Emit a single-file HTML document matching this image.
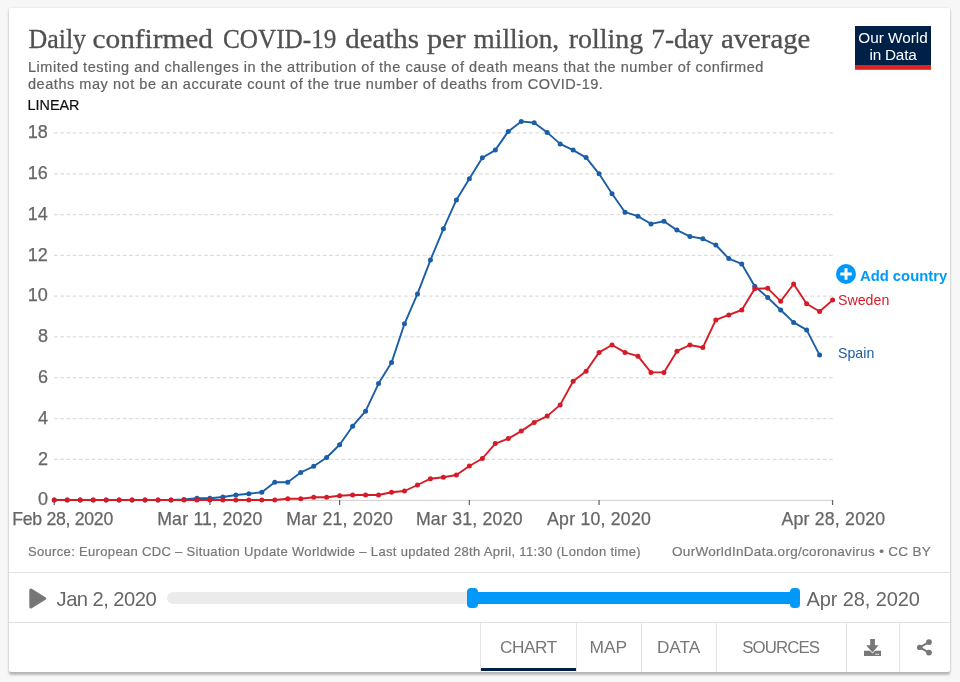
<!DOCTYPE html>
<html lang="en">
<head>
<meta charset="utf-8">
<title>Daily confirmed COVID-19 deaths per million, rolling 7-day average</title>
<style>
html,body{margin:0;padding:0;}
body{width:960px;height:682px;background:#f7f7f7;position:relative;overflow:hidden;font-family:"Liberation Sans", Arial, sans-serif;}
#card{position:absolute;left:9px;top:8px;width:941px;height:664px;background:#fff;border-radius:2px;
 box-shadow:0 0 2.5px 0 rgba(0,0,0,.1),0 2.5px 2.5px 0 rgba(0,0,0,.25);}
#chart{position:absolute;left:0;top:0;width:960px;height:682px;}
#chart text{font-family:"Liberation Sans", Arial, sans-serif;}
#chart #title{font-family:"Liberation Serif", "Times New Roman", serif;font-size:27px;}
.abs{position:absolute;white-space:nowrap;line-height:1;}
#timeline{position:absolute;left:9px;top:572px;width:941px;height:50px;border-top:1px solid #e3e3e3;box-sizing:border-box;}
#tabs{position:absolute;left:9px;top:622px;width:941px;height:50px;border-top:1px solid #e3e3e3;box-sizing:border-box;}
.tab{position:absolute;top:0;height:49px;border-left:1px solid #e3e3e3;box-sizing:border-box;color:#777;font-size:16.5px;text-align:center;line-height:48px;}
.tab.active::after{content:"";position:absolute;left:0;right:0;bottom:0.75px;height:3.25px;background:#002147;}
</style>
</head>
<body>
<div id="card"></div>
<svg id="chart" width="960" height="682" viewBox="0 0 960 682">
 <text id="title" x="28" y="48.3" fill="#505050" stroke="#505050" stroke-width="0.3"><tspan x="28.4" textLength="57.7" lengthAdjust="spacingAndGlyphs">Daily</tspan> <tspan x="92.5" textLength="120.5" lengthAdjust="spacingAndGlyphs">confirmed</tspan> <tspan x="222.9" textLength="113.6" lengthAdjust="spacingAndGlyphs">COVID-19</tspan> <tspan x="345.2" textLength="73.8" lengthAdjust="spacingAndGlyphs">deaths</tspan> <tspan x="426.9" textLength="38.8" lengthAdjust="spacingAndGlyphs">per</tspan> <tspan x="473.6" textLength="85.6" lengthAdjust="spacingAndGlyphs">million,</tspan> <tspan x="568.8" textLength="74.4" lengthAdjust="spacingAndGlyphs">rolling</tspan> <tspan x="651.3" textLength="61.9" lengthAdjust="spacingAndGlyphs">7-day</tspan> <tspan x="721.0" textLength="89.3" lengthAdjust="spacingAndGlyphs">average</tspan></text>
 <g fill="#636363" stroke="#636363" stroke-width="0.2" style="font-size:14.5px;letter-spacing:0.54px">
  <text x="28" y="71.6">Limited testing and challenges in the attribution of the cause of death means that the number of confirmed</text>
  <text x="28" y="88.7">deaths may not be an accurate count of the true number of deaths from COVID-19.</text>
 </g>
 <text x="27.5" y="110.4" fill="#111" stroke="#111" stroke-width="0.2" style="font-size:14.4px">LINEAR</text>
 <g stroke="#ddd" stroke-width="1.25" stroke-dasharray="3.75,2.5" fill="none"><line x1="54" x2="833" y1="459.31" y2="459.31"/><line x1="54" x2="833" y1="418.52" y2="418.52"/><line x1="54" x2="833" y1="377.73" y2="377.73"/><line x1="54" x2="833" y1="336.94" y2="336.94"/><line x1="54" x2="833" y1="296.15" y2="296.15"/><line x1="54" x2="833" y1="255.36" y2="255.36"/><line x1="54" x2="833" y1="214.57" y2="214.57"/><line x1="54" x2="833" y1="173.78" y2="173.78"/><line x1="54" x2="833" y1="132.99" y2="132.99"/></g>
 <line x1="54" x2="833" y1="500.3" y2="500.3" stroke="#ccc" stroke-width="1"/>
 <g stroke="#666" stroke-width="1.25"><line x1="54.25" x2="54.25" y1="500" y2="505"/><line x1="209.91" x2="209.91" y1="500" y2="505"/><line x1="339.63" x2="339.63" y1="500" y2="505"/><line x1="469.35" x2="469.35" y1="500" y2="505"/><line x1="599.07" x2="599.07" y1="500" y2="505"/><line x1="832.57" x2="832.57" y1="500" y2="505"/></g>
 <g fill="#666" stroke="#666" stroke-width="0.25" style="font-size:18px"><text x="47.9" y="505.3" text-anchor="end">0</text><text x="47.9" y="464.51" text-anchor="end">2</text><text x="47.9" y="423.72" text-anchor="end">4</text><text x="47.9" y="382.93" text-anchor="end">6</text><text x="47.9" y="342.14" text-anchor="end">8</text><text x="47.9" y="301.35" text-anchor="end">10</text><text x="47.9" y="260.56" text-anchor="end">12</text><text x="47.9" y="219.77" text-anchor="end">14</text><text x="47.9" y="178.98" text-anchor="end">16</text><text x="47.9" y="138.19" text-anchor="end">18</text></g>
 <g fill="#666" stroke="#666" stroke-width="0.25" style="font-size:17.7px;letter-spacing:0.22px"><text x="12.3" y="525" style="letter-spacing:-0.3px">Feb 28, 2020</text><text x="209.91" y="525" text-anchor="middle">Mar 11, 2020</text><text x="339.63" y="525" text-anchor="middle">Mar 21, 2020</text><text x="469.35" y="525" text-anchor="middle">Mar 31, 2020</text><text x="599.07" y="525" text-anchor="middle">Apr 10, 2020</text><text x="833.37" y="525" text-anchor="middle">Apr 28, 2020</text></g>
 <path d="M54.25,500.0 L67.22,500.0 L80.19,500.0 L93.17,500.0 L106.14,500.0 L119.11,500.0 L132.08,500.0 L145.05,500.0 L158.03,500.0 L171.0,500.0 L183.97,499.5 L196.94,498.3 L209.91,498.3 L222.89,497 L235.86,495 L248.83,493.7 L261.8,492.2 L274.77,482.3 L287.75,482.3 L300.72,472.5 L313.69,466.3 L326.66,457.5 L339.63,444.7 L352.61,426.2 L365.58,411.2 L378.55,383.6 L391.52,362.6 L404.49,323.8 L417.47,293.9 L430.44,260.1 L443.41,228.8 L456.38,199.9 L469.35,178.8 L482.33,157.8 L495.3,150.1 L508.27,131.4 L521.24,121.4 L534.21,122.7 L547.19,132.4 L560.16,143.9 L573.13,150.1 L586.1,157.6 L599.07,173.8 L612.05,193.7 L625.02,212.2 L637.99,216.2 L650.96,223.9 L663.93,221.2 L676.91,230.1 L689.88,236.4 L702.85,238.8 L715.82,245.0 L728.79,258.6 L741.77,263.9 L754.74,286.3 L767.71,297.5 L780.68,310 L793.65,322.4 L806.63,329.9 L819.6,355.1" fill="none" stroke="#1b5ea6" stroke-width="1.9" stroke-linejoin="round"/>
 <g fill="#1b5ea6"><circle cx="54.25" cy="500.0" r="2.5"/><circle cx="67.22" cy="500.0" r="2.5"/><circle cx="80.19" cy="500.0" r="2.5"/><circle cx="93.17" cy="500.0" r="2.5"/><circle cx="106.14" cy="500.0" r="2.5"/><circle cx="119.11" cy="500.0" r="2.5"/><circle cx="132.08" cy="500.0" r="2.5"/><circle cx="145.05" cy="500.0" r="2.5"/><circle cx="158.03" cy="500.0" r="2.5"/><circle cx="171.0" cy="500.0" r="2.5"/><circle cx="183.97" cy="499.5" r="2.5"/><circle cx="196.94" cy="498.3" r="2.5"/><circle cx="209.91" cy="498.3" r="2.5"/><circle cx="222.89" cy="497" r="2.5"/><circle cx="235.86" cy="495" r="2.5"/><circle cx="248.83" cy="493.7" r="2.5"/><circle cx="261.8" cy="492.2" r="2.5"/><circle cx="274.77" cy="482.3" r="2.5"/><circle cx="287.75" cy="482.3" r="2.5"/><circle cx="300.72" cy="472.5" r="2.5"/><circle cx="313.69" cy="466.3" r="2.5"/><circle cx="326.66" cy="457.5" r="2.5"/><circle cx="339.63" cy="444.7" r="2.5"/><circle cx="352.61" cy="426.2" r="2.5"/><circle cx="365.58" cy="411.2" r="2.5"/><circle cx="378.55" cy="383.6" r="2.5"/><circle cx="391.52" cy="362.6" r="2.5"/><circle cx="404.49" cy="323.8" r="2.5"/><circle cx="417.47" cy="293.9" r="2.5"/><circle cx="430.44" cy="260.1" r="2.5"/><circle cx="443.41" cy="228.8" r="2.5"/><circle cx="456.38" cy="199.9" r="2.5"/><circle cx="469.35" cy="178.8" r="2.5"/><circle cx="482.33" cy="157.8" r="2.5"/><circle cx="495.3" cy="150.1" r="2.5"/><circle cx="508.27" cy="131.4" r="2.5"/><circle cx="521.24" cy="121.4" r="2.5"/><circle cx="534.21" cy="122.7" r="2.5"/><circle cx="547.19" cy="132.4" r="2.5"/><circle cx="560.16" cy="143.9" r="2.5"/><circle cx="573.13" cy="150.1" r="2.5"/><circle cx="586.1" cy="157.6" r="2.5"/><circle cx="599.07" cy="173.8" r="2.5"/><circle cx="612.05" cy="193.7" r="2.5"/><circle cx="625.02" cy="212.2" r="2.5"/><circle cx="637.99" cy="216.2" r="2.5"/><circle cx="650.96" cy="223.9" r="2.5"/><circle cx="663.93" cy="221.2" r="2.5"/><circle cx="676.91" cy="230.1" r="2.5"/><circle cx="689.88" cy="236.4" r="2.5"/><circle cx="702.85" cy="238.8" r="2.5"/><circle cx="715.82" cy="245.0" r="2.5"/><circle cx="728.79" cy="258.6" r="2.5"/><circle cx="741.77" cy="263.9" r="2.5"/><circle cx="754.74" cy="286.3" r="2.5"/><circle cx="767.71" cy="297.5" r="2.5"/><circle cx="780.68" cy="310" r="2.5"/><circle cx="793.65" cy="322.4" r="2.5"/><circle cx="806.63" cy="329.9" r="2.5"/><circle cx="819.6" cy="355.1" r="2.5"/></g>
 <path d="M54.25,500.0 L67.22,500.0 L80.19,500.0 L93.17,500.0 L106.14,500.0 L119.11,500.0 L132.08,500.0 L145.05,500.0 L158.03,500.0 L171.0,500.0 L183.97,500.0 L196.94,500.0 L209.91,500.0 L222.89,500.0 L235.86,500.0 L248.83,500.0 L261.8,500.0 L274.77,500.0 L287.75,498.7 L300.72,498.7 L313.69,497.2 L326.66,497.2 L339.63,495.8 L352.61,495 L365.58,495 L378.55,495 L391.52,492.2 L404.49,491 L417.47,485 L430.44,478.7 L443.41,477.3 L456.38,475 L469.35,466.0 L482.33,458.5 L495.3,443.6 L508.27,438.6 L521.24,431.1 L534.21,422.4 L547.19,416.1 L560.16,404.9 L573.13,381.2 L586.1,371.3 L599.07,352.4 L612.05,345 L625.02,352.4 L637.99,356.2 L650.96,372.4 L663.93,372.4 L676.91,351.2 L689.88,345 L702.85,347.5 L715.82,319.9 L728.79,314.9 L741.77,310.0 L754.74,288.8 L767.71,288.3 L780.68,301.2 L793.65,284 L806.63,303.7 L819.6,311.5 L832.57,300.1" fill="none" stroke="#d61b27" stroke-width="1.9" stroke-linejoin="round"/>
 <g fill="#d61b27"><circle cx="54.25" cy="500.0" r="2.5"/><circle cx="67.22" cy="500.0" r="2.5"/><circle cx="80.19" cy="500.0" r="2.5"/><circle cx="93.17" cy="500.0" r="2.5"/><circle cx="106.14" cy="500.0" r="2.5"/><circle cx="119.11" cy="500.0" r="2.5"/><circle cx="132.08" cy="500.0" r="2.5"/><circle cx="145.05" cy="500.0" r="2.5"/><circle cx="158.03" cy="500.0" r="2.5"/><circle cx="171.0" cy="500.0" r="2.5"/><circle cx="183.97" cy="500.0" r="2.5"/><circle cx="196.94" cy="500.0" r="2.5"/><circle cx="209.91" cy="500.0" r="2.5"/><circle cx="222.89" cy="500.0" r="2.5"/><circle cx="235.86" cy="500.0" r="2.5"/><circle cx="248.83" cy="500.0" r="2.5"/><circle cx="261.8" cy="500.0" r="2.5"/><circle cx="274.77" cy="500.0" r="2.5"/><circle cx="287.75" cy="498.7" r="2.5"/><circle cx="300.72" cy="498.7" r="2.5"/><circle cx="313.69" cy="497.2" r="2.5"/><circle cx="326.66" cy="497.2" r="2.5"/><circle cx="339.63" cy="495.8" r="2.5"/><circle cx="352.61" cy="495" r="2.5"/><circle cx="365.58" cy="495" r="2.5"/><circle cx="378.55" cy="495" r="2.5"/><circle cx="391.52" cy="492.2" r="2.5"/><circle cx="404.49" cy="491" r="2.5"/><circle cx="417.47" cy="485" r="2.5"/><circle cx="430.44" cy="478.7" r="2.5"/><circle cx="443.41" cy="477.3" r="2.5"/><circle cx="456.38" cy="475" r="2.5"/><circle cx="469.35" cy="466.0" r="2.5"/><circle cx="482.33" cy="458.5" r="2.5"/><circle cx="495.3" cy="443.6" r="2.5"/><circle cx="508.27" cy="438.6" r="2.5"/><circle cx="521.24" cy="431.1" r="2.5"/><circle cx="534.21" cy="422.4" r="2.5"/><circle cx="547.19" cy="416.1" r="2.5"/><circle cx="560.16" cy="404.9" r="2.5"/><circle cx="573.13" cy="381.2" r="2.5"/><circle cx="586.1" cy="371.3" r="2.5"/><circle cx="599.07" cy="352.4" r="2.5"/><circle cx="612.05" cy="345" r="2.5"/><circle cx="625.02" cy="352.4" r="2.5"/><circle cx="637.99" cy="356.2" r="2.5"/><circle cx="650.96" cy="372.4" r="2.5"/><circle cx="663.93" cy="372.4" r="2.5"/><circle cx="676.91" cy="351.2" r="2.5"/><circle cx="689.88" cy="345" r="2.5"/><circle cx="702.85" cy="347.5" r="2.5"/><circle cx="715.82" cy="319.9" r="2.5"/><circle cx="728.79" cy="314.9" r="2.5"/><circle cx="741.77" cy="310.0" r="2.5"/><circle cx="754.74" cy="288.8" r="2.5"/><circle cx="767.71" cy="288.3" r="2.5"/><circle cx="780.68" cy="301.2" r="2.5"/><circle cx="793.65" cy="284" r="2.5"/><circle cx="806.63" cy="303.7" r="2.5"/><circle cx="819.6" cy="311.5" r="2.5"/><circle cx="832.57" cy="300.1" r="2.5"/></g>
 <circle cx="846" cy="274" r="10" fill="#0099fa"/>
 <path d="M846 268.3V279.7M840.3 274H851.7" stroke="#fff" stroke-width="3" fill="none"/>
 <text x="860" y="280.6" fill="#0099fa" style="font-size:14.8px;font-weight:bold">Add country</text>
 <text x="838" y="304.7" fill="#d61b27" style="font-size:14.2px">Sweden</text>
 <text x="838" y="358.4" fill="#1b5ea6" style="font-size:14.2px">Spain</text>
 <g fill="#777" stroke="#777" stroke-width="0.2" style="font-size:13px">
  <text x="28" y="555.7" style="letter-spacing:0.33px">Source: European CDC – Situation Update Worldwide – Last updated 28th April, 11:30 (London time)</text>
  <text x="931" y="555.7" text-anchor="end" style="font-size:13.5px;letter-spacing:0.3px">OurWorldInData.org/coronavirus • CC BY</text>
 </g>
 <g>
  <rect x="855" y="26" width="76" height="39.2" fill="#002147"/>
  <rect x="855" y="65" width="76" height="4.8" fill="#dc231e"/>
  <g fill="#fff" text-anchor="middle" style="font-size:15.3px">
   <text x="893" y="43.4">Our World</text>
   <text x="893" y="59.8" style="letter-spacing:-0.2px">in Data</text>
  </g>
 </g>
</svg>
<div id="timeline">
 <svg class="abs" style="left:20px;top:14.5px" width="18" height="21" viewBox="0 0 18 21"><path d="M1.9 2.2 L15.6 10.5 L1.9 18.8Z" fill="#777" stroke="#777" stroke-width="3.2" stroke-linejoin="round"/></svg>
 <span class="abs" style="left:47.6px;top:15.7px;font-size:20.2px;letter-spacing:-0.55px;color:#666">Jan 2, 2020</span>
 <div class="abs" style="left:158px;top:19px;width:633px;height:12px;border-radius:6px;background:#ebebeb"></div>
 <div class="abs" style="left:461px;top:19px;width:328px;height:11.8px;background:#0099fa"></div>
 <div class="abs" style="left:458px;top:15px;width:10.5px;height:20px;border-radius:4px;background:#0099fa"></div>
 <div class="abs" style="left:780.5px;top:15px;width:10.5px;height:20px;border-radius:4px;background:#0099fa"></div>
 <span class="abs" style="left:797.4px;top:15.7px;font-size:20px;letter-spacing:-0.1px;color:#666">Apr 28, 2020</span>
</div>
<div id="tabs">
 <div class="tab active" style="left:471px;width:95.75px;font-size:17.2px;letter-spacing:-0.45px;line-height:49px">CHART</div>
 <div class="tab" style="left:566.75px;width:65.25px;font-size:17.4px;line-height:49px;text-indent:-1px">MAP</div>
 <div class="tab" style="left:632px;width:75.2px;font-size:17.2px;line-height:49px;text-indent:-1px">DATA</div>
 <div class="tab" style="left:707.2px;width:130px;font-size:16.8px;letter-spacing:-0.85px;line-height:50px;text-indent:-2px">SOURCES</div>
 <div class="tab" style="left:837.2px;width:52.8px">
  <svg width="17" height="17" viewBox="0 0 17 17" style="position:absolute;left:17px;top:16.2px"><path d="M6.2 0h4.7v6.2h3.7L8.5 13.4 2.1 6.2h4.1z" fill="#777"/><path d="M0 11.8h5.9l2.6 2.8 2.6-2.8H17V17H0z" fill="#777"/><rect x="11.4" y="14.7" width="1.4" height="1.2" fill="#fff"/><rect x="13.5" y="14.7" width="1.4" height="1.2" fill="#fff"/></svg>
 </div>
 <div class="tab" style="left:890px;width:51px">
  <svg width="16" height="17" viewBox="0 0 16 17" style="position:absolute;left:16.7px;top:16.2px"><path d="M2.7 8.4 L12 3.1 M2.7 8.4 L12 13.6" stroke="#777" stroke-width="2" fill="none"/><circle cx="2.7" cy="8.4" r="2.7" fill="#777"/><circle cx="12" cy="3.1" r="2.9" fill="#777"/><circle cx="12" cy="13.6" r="2.9" fill="#777"/></svg>
 </div>
</div>
</body>
</html>
